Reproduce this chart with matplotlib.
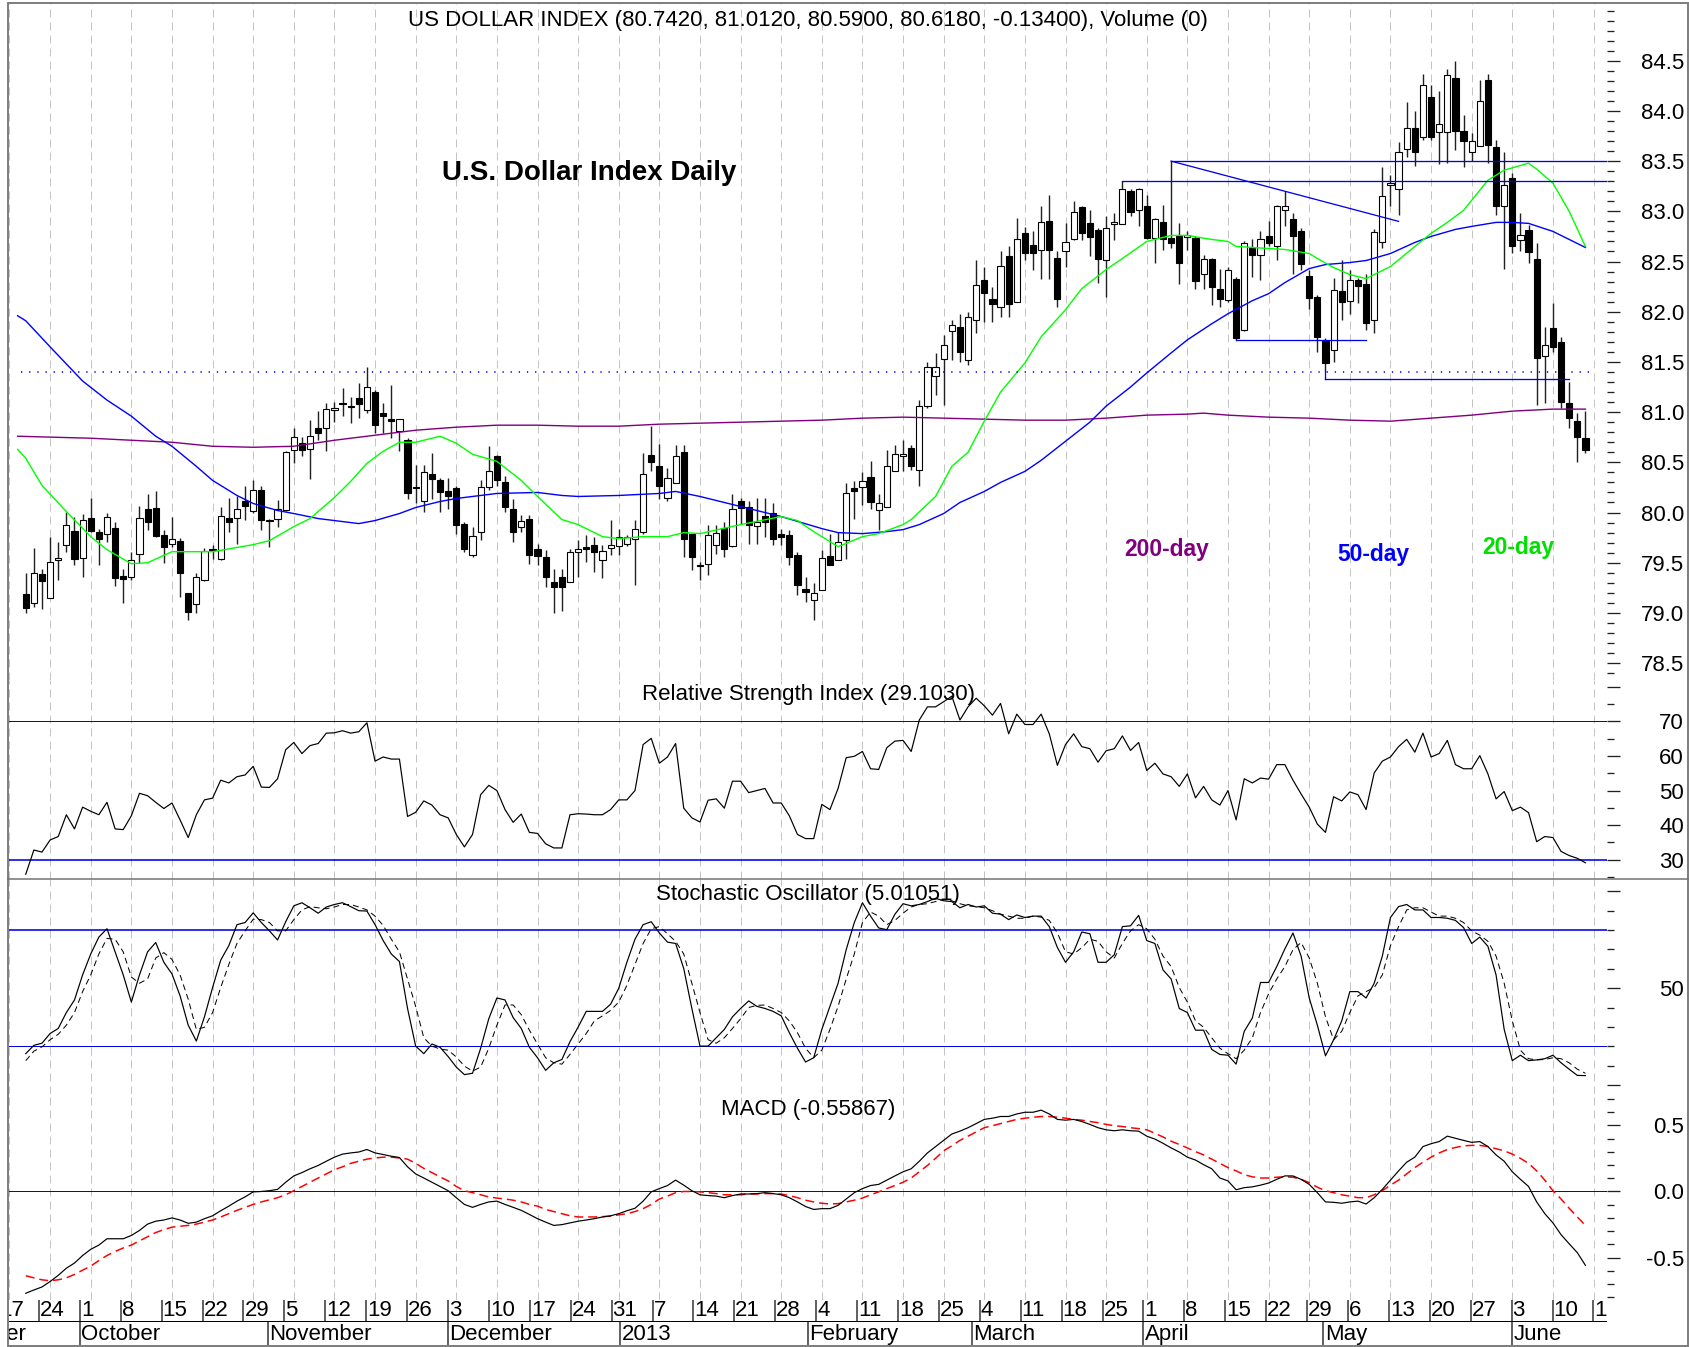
import numpy as np
import pandas as pd
import matplotlib
matplotlib.use("Agg")
import matplotlib.pyplot as plt
from matplotlib.lines import Line2D
from matplotlib.patches import Rectangle

# US Dollar Index, daily bars (19 Sep 2012 .. 14 Jun 2013)
first_day, last_day = "2012-09-19", "2013-06-14"

opens = [79.19, 79.10, 79.39, 79.15, 79.53, 79.68, 79.82, 79.55, 79.95, 79.81,
         79.79, 79.85, 79.37, 79.36, 79.59, 80.04, 80.05, 79.78, 79.69, 79.72,
         79.20, 79.09, 79.33, 79.63, 79.54, 79.95, 79.95, 80.11, 80.02, 80.22,
         79.93, 79.94, 80.03, 80.62, 80.69, 80.63, 80.84, 80.84, 81.02, 81.09,
         81.06, 81.14, 81.02, 81.20, 80.99, 80.93, 80.81, 80.72, 80.25, 80.11,
         80.38, 80.32, 80.21, 80.24, 79.89, 79.58, 79.81, 80.25, 80.56, 80.30,
         80.04, 79.86, 79.94, 79.64, 79.56, 79.31, 79.36, 79.31, 79.61, 79.66,
         79.68, 79.53, 79.65, 79.67, 79.69, 79.74, 79.81, 80.57, 80.46, 80.14,
         80.29, 80.60, 79.79, 79.48, 79.49, 79.68, 79.85, 79.67, 80.11, 80.06,
         79.87, 79.97, 80.00, 79.79, 79.78, 79.58, 79.24, 79.13, 79.23, 79.57,
         79.53, 79.73, 80.24, 80.25, 80.35, 80.03, 80.06, 80.41, 80.56, 80.64,
         80.42, 81.06, 81.36, 81.53, 81.81, 81.85, 81.52, 81.92, 82.32, 82.13,
         82.05, 82.56, 82.10, 82.78, 82.66, 82.61, 82.90, 82.54, 82.60, 82.72,
         83.04, 82.88, 82.81, 82.52, 82.87, 82.87, 83.20, 83.01, 83.05, 82.73,
         82.89, 82.73, 82.75, 82.74, 82.73, 82.38, 82.53, 82.23, 82.12, 82.33,
         81.82, 82.63, 82.57, 82.75, 82.65, 83.01, 82.92, 82.80, 82.36, 82.15,
         81.71, 81.62, 82.21, 82.11, 82.32, 82.28, 81.92, 82.69, 83.26, 83.22,
         83.62, 83.83, 83.74, 84.14, 83.79, 83.79, 84.33, 83.80, 83.59, 83.65,
         84.31, 83.64, 83.05, 83.33, 82.71, 82.81, 82.53, 81.56, 81.84, 81.70,
         81.09, 80.91, 80.742]
highs = [79.40, 79.65, 79.44, 79.76, 79.71, 80.01, 79.96, 79.99, 80.14, 79.84,
         80.00, 79.91, 79.44, 79.61, 80.07, 80.18, 80.21, 79.83, 79.96, 79.75,
         79.20, 79.40, 79.65, 79.68, 80.06, 80.14, 80.16, 80.26, 80.32, 80.26,
         79.94, 80.12, 80.61, 80.84, 80.75, 80.92, 81.01, 81.09, 81.10, 81.24,
         81.15, 81.29, 81.45, 81.22, 81.09, 81.27, 80.93, 80.74, 80.47, 80.47,
         80.59, 80.34, 80.34, 80.26, 79.91, 79.86, 80.32, 80.66, 80.57, 80.36,
         80.13, 79.98, 79.98, 79.69, 79.63, 79.44, 79.44, 79.64, 79.73, 79.78,
         79.76, 79.68, 79.93, 79.84, 79.78, 79.93, 80.59, 80.86, 80.68, 80.44,
         80.67, 80.67, 79.79, 79.51, 79.88, 79.88, 79.91, 80.18, 80.14, 80.11,
         80.14, 80.14, 80.09, 79.84, 79.83, 79.61, 79.36, 79.30, 79.63, 79.79,
         79.81, 80.29, 80.31, 80.40, 80.51, 80.18, 80.62, 80.67, 80.72, 80.67,
         81.12, 81.50, 81.59, 81.77, 81.92, 81.98, 82.00, 82.52, 82.45, 82.25,
         82.60, 82.65, 82.93, 82.84, 82.80, 83.05, 83.16, 82.60, 82.88, 83.10,
         83.05, 83.01, 82.83, 82.95, 82.98, 83.30, 83.22, 83.23, 83.16, 82.93,
         83.06, 83.50, 82.88, 82.80, 82.75, 82.57, 82.54, 82.43, 82.45, 82.35,
         82.70, 82.72, 82.80, 82.90, 83.06, 83.20, 82.98, 82.83, 82.42, 82.17,
         81.74, 82.34, 82.52, 82.42, 82.34, 82.38, 82.82, 83.44, 83.36, 83.69,
         84.09, 84.00, 84.37, 84.26, 84.20, 84.42, 84.50, 83.96, 83.78, 84.31,
         84.37, 83.71, 83.59, 83.38, 82.98, 82.86, 82.68, 81.85, 82.09, 81.75,
         81.30, 80.99, 81.012]
lows = [79.00, 79.06, 79.04, 79.15, 79.33, 79.61, 79.48, 79.36, 79.81, 79.48,
        79.71, 79.27, 79.10, 79.33, 79.50, 79.83, 79.76, 79.50, 79.66, 79.16,
        78.93, 79.00, 79.32, 79.54, 79.53, 79.81, 79.69, 79.93, 80.00, 79.83,
        79.66, 79.86, 80.02, 80.49, 80.56, 80.33, 80.72, 80.61, 80.90, 80.96,
        80.89, 80.94, 80.99, 80.79, 80.79, 80.74, 80.61, 80.13, 80.09, 80.01,
        80.13, 80.01, 80.04, 79.79, 79.61, 79.56, 79.73, 80.22, 80.26, 80.01,
        79.71, 79.81, 79.49, 79.48, 79.26, 79.00, 79.02, 79.31, 79.36, 79.51,
        79.41, 79.35, 79.58, 79.58, 79.67, 79.28, 79.79, 80.41, 80.13, 80.11,
        80.29, 79.56, 79.43, 79.33, 79.38, 79.59, 79.56, 79.66, 79.89, 79.69,
        79.69, 79.76, 79.68, 79.68, 79.48, 79.18, 79.11, 78.93, 79.23, 79.48,
        79.53, 79.54, 79.94, 80.08, 80.04, 79.83, 80.06, 80.41, 80.41, 80.42,
        80.26, 81.04, 81.17, 81.07, 81.52, 81.50, 81.47, 81.79, 81.90, 81.90,
        81.95, 81.95, 82.10, 82.52, 82.42, 82.33, 82.33, 82.05, 82.45, 82.71,
        82.71, 82.56, 82.29, 82.15, 82.71, 82.87, 82.95, 82.85, 82.72, 82.49,
        82.61, 82.63, 82.28, 82.61, 82.23, 82.23, 82.07, 82.05, 82.10, 81.72,
        81.81, 82.35, 82.32, 82.65, 82.52, 82.85, 82.38, 82.42, 82.03, 81.60,
        81.42, 81.50, 81.92, 81.98, 82.09, 81.82, 81.79, 82.63, 83.05, 82.96,
        83.54, 83.45, 83.71, 83.71, 83.47, 83.48, 83.61, 83.44, 83.50, 83.65,
        83.48, 82.96, 82.43, 82.58, 82.60, 82.49, 81.07, 81.09, 81.60, 81.04,
        80.84, 80.50, 80.590]
closes = [79.05, 79.40, 79.32, 79.51, 79.55, 79.88, 79.54, 79.93, 79.82, 79.74,
          79.96, 79.35, 79.34, 79.53, 79.95, 79.91, 79.77, 79.66, 79.74, 79.40,
          79.01, 79.36, 79.62, 79.64, 79.97, 79.91, 80.04, 80.07, 80.22, 79.93,
          79.92, 80.04, 80.60, 80.75, 80.62, 80.76, 80.79, 81.03, 81.04, 81.08,
          81.05, 81.08, 81.25, 80.87, 80.96, 80.91, 80.93, 80.19, 80.24, 80.40,
          80.33, 80.20, 80.16, 79.88, 79.64, 79.77, 80.25, 80.41, 80.32, 80.06,
          79.81, 79.92, 79.58, 79.57, 79.36, 79.26, 79.26, 79.61, 79.64, 79.64,
          79.61, 79.62, 79.68, 79.76, 79.76, 79.84, 80.38, 80.50, 80.26, 80.34,
          80.56, 79.74, 79.56, 79.47, 79.78, 79.80, 79.64, 80.04, 80.05, 79.88,
          79.91, 79.91, 79.74, 79.76, 79.56, 79.28, 79.21, 79.20, 79.55, 79.48,
          79.71, 80.19, 80.21, 80.31, 80.10, 80.09, 80.46, 80.58, 80.58, 80.46,
          81.06, 81.45, 81.45, 81.67, 81.87, 81.60, 81.95, 82.27, 82.19, 82.08,
          82.46, 82.08, 82.72, 82.58, 82.58, 82.89, 82.61, 82.13, 82.69, 82.99,
          82.78, 82.74, 82.53, 82.83, 82.89, 83.22, 82.99, 83.22, 82.73, 82.92,
          82.72, 82.68, 82.49, 82.76, 82.31, 82.53, 82.25, 82.13, 82.42, 81.74,
          82.68, 82.57, 82.72, 82.68, 83.05, 83.05, 82.75, 82.48, 82.14, 81.75,
          81.49, 82.22, 82.10, 82.32, 82.26, 81.89, 82.79, 83.15, 83.28, 83.59,
          83.83, 83.59, 84.26, 83.74, 83.87, 84.36, 83.80, 83.70, 83.70, 84.10,
          83.66, 83.05, 83.26, 82.65, 82.76, 82.59, 81.54, 81.67, 81.65, 81.10,
          80.94, 80.75, 80.618]

# moving averages, sampled along the curves
ma20_dates = ["2012-09-18", "2012-09-19", "2012-09-21", "2012-09-26", "2012-10-01", "2012-10-03",
              "2012-10-08", "2012-10-10", "2012-10-15", "2012-10-22", "2012-10-29",
              "2012-10-31", "2012-11-05", "2012-11-07", "2012-11-12", "2012-11-14",
              "2012-11-16", "2012-11-20", "2012-11-22", "2012-11-26", "2012-11-29",
              "2012-12-03", "2012-12-05", "2012-12-10", "2012-12-13", "2012-12-17",
              "2012-12-20", "2012-12-24", "2012-12-27", "2012-12-31", "2013-01-03",
              "2013-01-08", "2013-01-10", "2013-01-14", "2013-01-21", "2013-01-28",
              "2013-01-30", "2013-02-01", "2013-02-06", "2013-02-11", "2013-02-13",
              "2013-02-18", "2013-02-19", "2013-02-22", "2013-02-26", "2013-02-28",
              "2013-03-04", "2013-03-06", "2013-03-11", "2013-03-13", "2013-03-18",
              "2013-03-20", "2013-03-25", "2013-03-27", "2013-04-01", "2013-04-04",
              "2013-04-08", "2013-04-11", "2013-04-15", "2013-04-16", "2013-04-22",
              "2013-04-24", "2013-04-29", "2013-04-30", "2013-05-02", "2013-05-06",
              "2013-05-08", "2013-05-13", "2013-05-16", "2013-05-20", "2013-05-22",
              "2013-05-24", "2013-05-29", "2013-05-31", "2013-06-05", "2013-06-06",
              "2013-06-07", "2013-06-10", "2013-06-12", "2013-06-14"]
ma20 = [80.63, 80.54, 80.27, 80.01, 79.76, 79.63, 79.49, 79.50, 79.61, 79.61, 79.68,
        79.72, 79.86, 79.94, 80.15, 80.31, 80.49, 80.61, 80.70, 80.70, 80.76,
        80.69, 80.58, 80.51, 80.32, 80.16, 79.93, 79.88, 79.76, 79.74, 79.76,
        79.76, 79.80, 79.79, 79.88, 79.96, 79.92, 79.81, 79.66, 79.76, 79.79,
        79.88, 79.93, 80.16, 80.46, 80.60, 80.91, 81.20, 81.49, 81.75, 82.02,
        82.23, 82.42, 82.53, 82.70, 82.76, 82.76, 82.72, 82.70, 82.65, 82.63,
        82.62, 82.58, 82.53, 82.44, 82.37, 82.33, 82.45, 82.65, 82.78, 82.89,
        83.01, 83.31, 83.41, 83.48, 83.42, 83.35, 83.28, 83.00, 82.65]

ma50_dates = ["2012-09-18", "2012-09-19", "2012-09-24", "2012-09-28", "2012-10-03", "2012-10-08",
              "2012-10-11", "2012-10-15", "2012-10-18", "2012-10-22", "2012-10-25",
              "2012-10-29", "2012-11-01", "2012-11-05", "2012-11-08", "2012-11-12",
              "2012-11-15", "2012-11-19", "2012-11-22", "2012-11-26", "2012-11-29",
              "2012-12-03", "2012-12-06", "2012-12-10", "2012-12-17", "2012-12-20",
              "2012-12-24", "2012-12-31", "2013-01-07", "2013-01-09", "2013-01-14",
              "2013-01-21", "2013-01-28", "2013-02-04", "2013-02-06", "2013-02-11",
              "2013-02-14", "2013-02-18", "2013-02-20", "2013-02-25", "2013-02-27",
              "2013-03-04", "2013-03-06", "2013-03-11", "2013-03-13", "2013-03-18",
              "2013-03-21", "2013-03-25", "2013-03-28", "2013-04-01", "2013-04-04",
              "2013-04-08", "2013-04-11", "2013-04-15", "2013-04-18", "2013-04-22",
              "2013-04-24", "2013-04-29", "2013-05-01", "2013-05-06", "2013-05-08",
              "2013-05-13", "2013-05-16", "2013-05-20", "2013-05-23", "2013-05-27",
              "2013-05-30", "2013-06-03", "2013-06-05", "2013-06-10", "2013-06-12",
              "2013-06-14"]
ma50 = [81.96, 81.91, 81.65, 81.31, 81.12, 80.96, 80.76, 80.66, 80.46, 80.32, 80.17,
        80.09, 80.02, 79.99, 79.94, 79.92, 79.89, 79.92, 79.99, 80.05, 80.11,
        80.14, 80.17, 80.19, 80.20, 80.17, 80.16, 80.17, 80.19, 80.21, 80.16,
        80.06, 79.96, 79.84, 79.80, 79.79, 79.81, 79.83, 79.88, 79.99, 80.10,
        80.21, 80.30, 80.41, 80.52, 80.71, 80.90, 81.06, 81.25, 81.39, 81.59,
        81.72, 81.88, 81.98, 82.11, 82.18, 82.29, 82.43, 82.47, 82.49, 82.51,
        82.58, 82.69, 82.75, 82.82, 82.85, 82.89, 82.89, 82.88, 82.80, 82.72,
        82.64]

ma200_dates = ["2012-09-18", "2012-10-01", "2012-10-08", "2012-10-15", "2012-10-22", "2012-10-29",
               "2012-11-05", "2012-11-12", "2012-11-19", "2012-11-26", "2012-12-03",
               "2012-12-10", "2012-12-17", "2012-12-24", "2012-12-31", "2013-01-07",
               "2013-01-14", "2013-01-21", "2013-01-28", "2013-02-04", "2013-02-11",
               "2013-02-18", "2013-02-25", "2013-03-04", "2013-03-11", "2013-03-18",
               "2013-03-25", "2013-04-01", "2013-04-08", "2013-04-10", "2013-04-15",
               "2013-04-22", "2013-04-29", "2013-05-06", "2013-05-13", "2013-05-20",
               "2013-05-27", "2013-06-03", "2013-06-10", "2013-06-14"]
ma200 = [80.76, 80.74, 80.72, 80.70, 80.66, 80.65, 80.66, 80.72, 80.77, 80.82, 80.85,
         80.87, 80.87, 80.86, 80.86, 80.88, 80.89, 80.90, 80.91, 80.92, 80.94,
         80.95, 80.94, 80.93, 80.92, 80.92, 80.94, 80.97, 80.98, 80.99, 80.97,
         80.95, 80.94, 80.92, 80.91, 80.94, 80.97, 81.01, 81.03, 81.03]

rsi = [25.8, 32.8, 32.2, 35.7, 36.7, 43.0, 38.9, 45.2, 44.0, 43.0,
       46.6, 38.9, 38.7, 42.7, 49.2, 48.5, 46.6, 44.8, 46.4, 41.5,
       36.4, 43.0, 47.3, 47.8, 53.0, 52.2, 54.0, 54.5, 57.0, 51.0,
       50.9, 53.4, 61.8, 63.9, 60.7, 63.0, 63.6, 66.6, 66.7, 67.3,
       66.6, 67.0, 69.6, 58.5, 59.7, 59.1, 59.1, 42.5, 43.7, 47.0,
       45.8, 43.0, 42.1, 37.3, 33.7, 37.3, 48.8, 51.5, 50.0, 44.5,
       40.8, 43.2, 37.9, 37.6, 34.6, 33.4, 33.4, 43.0, 43.3, 43.2,
       43.0, 43.0, 44.5, 47.3, 47.3, 50.0, 63.3, 65.1, 57.9, 59.7,
       63.6, 44.9, 42.1, 40.9, 47.2, 47.6, 44.9, 52.7, 52.7, 49.4,
       50.0, 50.6, 46.4, 46.4, 42.7, 37.3, 36.1, 36.1, 46.0, 44.5,
       50.6, 59.5, 59.9, 61.3, 56.3, 56.1, 62.4, 64.3, 64.5, 61.3,
       70.4, 74.2, 74.2, 75.7, 77.3, 70.4, 74.2, 76.7, 74.5, 71.8,
       75.2, 66.4, 72.1, 69.1, 69.1, 72.1, 66.4, 57.3, 63.3, 66.4,
       62.7, 62.1, 58.2, 61.5, 62.1, 65.8, 61.6, 63.9, 55.8, 57.9,
       54.8, 54.0, 51.2, 54.8, 47.9, 51.2, 47.3, 45.8, 50.0, 41.5,
       53.4, 52.2, 53.6, 53.3, 57.5, 57.5, 53.0, 49.0, 45.2, 40.3,
       37.9, 48.2, 47.0, 49.6, 48.8, 44.5, 55.1, 58.5, 59.7, 62.7,
       64.8, 61.1, 66.6, 59.7, 60.7, 64.5, 57.5, 56.3, 56.3, 60.1,
       54.8, 47.6, 49.7, 44.2, 45.2, 43.6, 35.2, 36.7, 36.4, 32.4,
       31.2, 30.4, 29.1]

stoch_k = [16.3, 20.6, 21.7, 26.7, 29.3, 37.5, 44.0, 56.9, 67.7, 76.4,
           80.7, 68.8, 56.9, 42.9, 56.9, 68.8, 73.6, 63.4, 57.4, 46.1,
           31.0, 22.8, 35.3, 50.4, 64.5, 72.0, 82.8, 83.9, 88.9, 83.9,
           79.6, 74.9, 84.3, 92.5, 94.1, 91.5, 88.7, 91.9, 93.2, 94.1,
           92.1, 90.0, 89.8, 82.8, 74.6, 67.7, 63.8, 39.6, 20.2, 16.3,
           21.3, 19.6, 14.8, 9.4, 5.5, 6.2, 19.1, 34.3, 45.0, 44.0,
           34.9, 29.3, 19.6, 14.2, 7.7, 11.6, 13.3, 22.5, 30.0, 38.1,
           38.1, 38.1, 41.8, 50.0, 63.4, 75.3, 82.8, 84.3, 78.5, 73.8,
           73.1, 60.2, 39.6, 20.2, 20.2, 24.5, 28.8, 35.3, 39.6, 43.5,
           40.7, 39.6, 38.1, 35.8, 27.1, 19.1, 12.0, 14.2, 28.8, 40.7,
           52.6, 69.9, 83.9, 94.1, 87.2, 81.1, 80.2, 88.2, 93.6, 92.5,
           93.2, 94.7, 96.4, 95.1, 94.7, 91.5, 93.2, 91.9, 92.5, 88.7,
           88.2, 85.4, 87.8, 86.5, 87.2, 87.2, 81.8, 71.0, 63.4, 68.8,
           79.0, 78.1, 63.4, 63.4, 67.3, 81.8, 82.2, 87.6, 74.6, 73.1,
           59.5, 54.8, 39.6, 37.5, 28.4, 28.4, 18.5, 15.9, 15.5, 10.9,
           27.8, 34.7, 53.0, 53.0, 61.2, 70.3, 78.5, 66.6, 45.0, 31.0,
           15.2, 23.4, 33.2, 48.3, 48.3, 45.0, 52.6, 66.6, 86.5, 92.1,
           93.2, 90.4, 90.4, 86.5, 86.5, 86.1, 85.0, 81.3, 73.1, 76.4,
           71.6, 56.9, 28.8, 12.7, 15.5, 12.7, 13.1, 13.7, 15.5, 11.6,
           8.3, 5.1, 5.0]
stoch_d = [12.7, 17.6, 19.8, 23.5, 26.3, 31.0, 37.5, 48.3, 56.9, 67.7,
           75.7, 75.3, 68.8, 55.8, 52.6, 54.8, 65.6, 68.4, 64.9, 56.9,
           44.4, 28.8, 29.9, 37.5, 50.4, 62.3, 73.1, 79.6, 85.6, 85.4,
           83.9, 79.6, 79.6, 85.4, 90.4, 92.1, 91.5, 91.0, 91.9, 93.2,
           93.2, 91.9, 90.4, 87.2, 82.4, 75.3, 68.8, 54.8, 40.7, 24.5,
           20.2, 18.7, 18.1, 14.6, 9.9, 7.3, 9.4, 19.1, 31.0, 41.4,
           41.4, 36.4, 28.4, 21.3, 14.2, 11.6, 10.9, 15.9, 21.3, 26.7,
           33.2, 35.8, 38.6, 42.9, 51.5, 62.3, 73.1, 80.7, 81.8, 78.1,
           74.2, 67.7, 52.6, 37.5, 23.5, 21.7, 24.5, 29.3, 34.3, 40.1,
           41.2, 41.4, 39.6, 37.5, 33.2, 27.1, 19.1, 14.2, 18.1, 28.8,
           40.7, 54.8, 67.7, 83.9, 89.3, 87.2, 82.8, 85.0, 88.7, 91.9,
           93.2, 93.6, 94.7, 95.8, 95.1, 93.6, 92.5, 92.1, 91.5, 90.0,
           88.2, 87.2, 86.1, 86.1, 87.2, 86.7, 85.0, 78.5, 68.8, 67.7,
           70.9, 75.3, 74.2, 68.8, 65.6, 73.1, 79.6, 82.8, 80.7, 75.3,
           66.6, 61.2, 50.4, 42.9, 33.2, 29.9, 24.5, 19.1, 16.3, 13.7,
           18.1, 24.5, 37.5, 47.2, 54.8, 61.2, 69.9, 73.6, 65.6, 52.6,
           35.3, 23.5, 27.8, 37.5, 46.1, 48.3, 50.4, 56.9, 72.0, 81.8,
           90.4, 91.5, 91.5, 89.3, 87.2, 87.2, 86.1, 83.9, 79.6, 77.4,
           74.2, 66.6, 52.6, 33.2, 18.1, 13.7, 13.1, 13.3, 14.2, 13.7,
           11.6, 8.3, 6.2]

macd = [-0.771, -0.746, -0.723, -0.682, -0.635, -0.581, -0.542, -0.485, -0.438, -0.406,
        -0.358, -0.358, -0.358, -0.333, -0.295, -0.247, -0.225, -0.216, -0.200, -0.216,
        -0.241, -0.232, -0.206, -0.184, -0.146, -0.111, -0.073, -0.041, -0.003, 0.000,
        0.006, 0.016, 0.070, 0.118, 0.143, 0.172, 0.197, 0.229, 0.260, 0.283,
        0.292, 0.299, 0.318, 0.292, 0.280, 0.267, 0.257, 0.187, 0.133, 0.102,
        0.070, 0.038, 0.006, -0.047, -0.098, -0.120, -0.098, -0.079, -0.073, -0.098,
        -0.120, -0.143, -0.174, -0.206, -0.232, -0.257, -0.251, -0.238, -0.225, -0.216,
        -0.206, -0.193, -0.184, -0.168, -0.146, -0.127, -0.073, -0.003, 0.022, 0.045,
        0.086, 0.048, 0.006, -0.025, -0.031, -0.035, -0.047, -0.031, -0.019, -0.019,
        -0.016, -0.009, -0.016, -0.025, -0.047, -0.079, -0.114, -0.136, -0.130, -0.130,
        -0.105, -0.057, -0.009, 0.022, 0.045, 0.054, 0.086, 0.118, 0.149, 0.172,
        0.229, 0.292, 0.340, 0.387, 0.435, 0.457, 0.483, 0.514, 0.546, 0.555,
        0.568, 0.568, 0.587, 0.600, 0.600, 0.616, 0.587, 0.546, 0.540, 0.546,
        0.530, 0.508, 0.483, 0.467, 0.460, 0.467, 0.460, 0.457, 0.419, 0.397,
        0.365, 0.330, 0.299, 0.260, 0.238, 0.203, 0.172, 0.102, 0.080, 0.013,
        0.029, 0.035, 0.048, 0.064, 0.092, 0.118, 0.118, 0.092, 0.054, -0.009,
        -0.079, -0.082, -0.089, -0.079, -0.073, -0.095, -0.047, 0.016, 0.086, 0.156,
        0.222, 0.260, 0.340, 0.362, 0.378, 0.419, 0.403, 0.387, 0.372, 0.378,
        0.340, 0.277, 0.229, 0.149, 0.092, 0.038, -0.079, -0.168, -0.238, -0.327,
        -0.396, -0.463, -0.559]
macd_signal = [-0.638, -0.654, -0.669, -0.676, -0.669, -0.654, -0.628, -0.596, -0.565, -0.523,
               -0.485, -0.454, -0.428, -0.406, -0.374, -0.343, -0.311, -0.289, -0.270, -0.263,
               -0.257, -0.247, -0.232, -0.216, -0.193, -0.168, -0.143, -0.120, -0.098, -0.079,
               -0.063, -0.047, -0.025, 0.006, 0.038, 0.070, 0.102, 0.133, 0.165, 0.187,
               0.213, 0.229, 0.245, 0.254, 0.260, 0.260, 0.254, 0.245, 0.213, 0.175,
               0.143, 0.111, 0.080, 0.038, 0.006, -0.009, -0.025, -0.041, -0.050, -0.057,
               -0.066, -0.079, -0.098, -0.111, -0.136, -0.152, -0.168, -0.184, -0.193, -0.193,
               -0.193, -0.190, -0.187, -0.177, -0.168, -0.152, -0.130, -0.098, -0.057, -0.035,
               -0.009, 0.000, 0.000, -0.003, -0.009, -0.016, -0.025, -0.025, -0.025, -0.019,
               -0.019, -0.016, -0.016, -0.019, -0.031, -0.047, -0.066, -0.079, -0.089, -0.095,
               -0.092, -0.079, -0.066, -0.050, -0.025, -0.003, 0.022, 0.045, 0.070, 0.102,
               0.149, 0.197, 0.251, 0.308, 0.346, 0.387, 0.419, 0.451, 0.483, 0.498,
               0.514, 0.530, 0.546, 0.555, 0.562, 0.568, 0.568, 0.562, 0.555, 0.546,
               0.540, 0.530, 0.521, 0.508, 0.498, 0.492, 0.483, 0.476, 0.467, 0.441,
               0.413, 0.381, 0.356, 0.330, 0.302, 0.277, 0.245, 0.213, 0.181, 0.156,
               0.127, 0.111, 0.102, 0.102, 0.108, 0.111, 0.108, 0.092, 0.067, 0.032,
               0.006, -0.009, -0.025, -0.035, -0.047, -0.047, -0.025, 0.006, 0.048, 0.086,
               0.133, 0.181, 0.222, 0.260, 0.292, 0.318, 0.333, 0.346, 0.349, 0.349,
               0.340, 0.324, 0.308, 0.283, 0.251, 0.213, 0.156, 0.086, 0.006, -0.057,
               -0.127, -0.193, -0.257]

# drawn support / resistance lines: (start, end, start level, end level)
trend_lines = [("2013-04-04", None, 83.50, 83.50),
               ("2013-03-27", None, 83.30, 83.30),
               ("2013-04-04", "2013-05-14", 83.50, 82.90),
               ("2013-04-16", "2013-05-08", 81.72, 81.72),
               ("2013-05-01", "2013-06-12", 81.33, 81.33)]
dotted_level = 81.40

month_starts = ["2012-09-03", "2012-10-01", "2012-11-01", "2012-12-03", "2013-01-01",
                "2013-02-01", "2013-03-01", "2013-04-01", "2013-05-01", "2013-06-03"]
month_names = ["September", "October", "November", "December", "2013",
               "February", "March", "April", "May", "June"]

# ---------------------------------------------------------------------------
plt.rcParams["font.family"] = ["Liberation Sans", "DejaVu Sans"]
plt.rcParams["axes.unicode_minus"] = False

W, H, DPI = 1690, 1347, 100
PX = 72.0 / DPI           # points per pixel
LEFT, RIGHT = 9.5, 1606.7
XLIM = (1.41, 196.62)
FS = 16
BLUE = "#0000ee"

ORIGIN = np.datetime64("2012-09-17")


def bday(d):
    return np.busday_count(ORIGIN, np.asarray(d, dtype="datetime64[D]"))


days = pd.bdate_range(first_day, last_day)
x = bday(days.values.astype("datetime64[D]"))
mondays = pd.date_range("2012-09-17", "2013-06-17", freq="W-MON")
xm = bday(mondays.values.astype("datetime64[D]"))

fig = plt.figure(figsize=(W / DPI, H / DPI), dpi=DPI)
fig.patch.set_facecolor("white")


def panel(top, bottom, ylim):
    ax = fig.add_axes([LEFT / W, 1 - bottom / H, (RIGHT - LEFT) / W, (bottom - top) / H])
    ax.patch.set_alpha(0)
    for s in ax.spines.values():
        s.set_visible(False)
    ax.set_xlim(XLIM)
    ax.set_ylim(ylim)
    ax.set_xticks(xm)
    ax.tick_params(axis="x", bottom=False, labelbottom=False)
    ax.grid(axis="x", color="#c4c4c4", lw=1 * PX, ls=(0, (8, 5)))
    ax.set_axisbelow(True)
    return ax


def right_ticks(ax, major, labels, minor):
    ax.yaxis.tick_right()
    ax.set_yticks(major, labels=labels)
    ax.set_yticks(minor, minor=True)
    ax.tick_params(axis="y", which="major", direction="out", length=13.3 * PX,
                   width=1.3 * PX, color="#202020", pad=64 * PX, labelsize=FS)
    ax.tick_params(axis="y", which="minor", direction="out", length=6.7 * PX,
                   width=1.3 * PX, color="#202020")
    plt.setp(ax.yaxis.get_majorticklabels(), ha="right")


# ---- price panel ----
ax = panel(3, 680, (78.332, 85.075))
pmaj = np.arange(78.5, 84.51, 0.5)
right_ticks(ax, pmaj, [f"{v:.1f}" for v in pmaj], np.arange(78.4, 85.05, 0.1))

o, h, l, c = map(np.array, (opens, highs, lows, closes))
up = c >= o
ax.vlines(x, l, h, color="#202020", lw=1.4 * PX, zorder=2)
ax.bar(x, np.maximum(np.abs(c - o), 0.004), bottom=np.minimum(o, c), width=0.76,
       color=np.where(up, "white", "black"), edgecolor="black", lw=1.1 * PX, zorder=3)

ax.plot(bday(ma200_dates), ma200, color="#800080", lw=1.4 * PX, zorder=4)
ax.plot(bday(ma50_dates), ma50, color="#0000ff", lw=1.4 * PX, zorder=4)
ax.plot(bday(ma20_dates), ma20, color="#00ff00", lw=1.4 * PX, zorder=4)

for start, end, y0, y1 in trend_lines:
    xs = bday(start)
    xe = XLIM[1] if end is None else bday(end)
    ax.plot([xs, xe], [y0, y1], color=BLUE, lw=1.3 * PX, zorder=5, clip_on=True)
ax.plot([bday("2013-05-01")] * 2, [81.42, 81.33], color=BLUE, lw=1.3 * PX, zorder=5)
ax.hlines(dotted_level, XLIM[0], bday("2013-06-17"), color=BLUE, lw=1.6 * PX,
          ls=(0, (0.8, 4.3)), zorder=5)

ax.text(0.5, 0.974, "US DOLLAR INDEX (80.7420, 81.0120, 80.5900, 80.6180, -0.13400), Volume (0)",
        transform=ax.transAxes, ha="center", va="center", fontsize=FS)
ax.text(0.3628, 0.7486, "U.S. Dollar Index Daily", transform=ax.transAxes,
        ha="center", va="center", fontsize=20, fontweight="bold")
ax.text(0.7247, 0.1935, "200-day", transform=ax.transAxes, ha="center", va="center",
        fontsize=16.5, fontweight="bold", color="#800080")
ax.text(0.8537, 0.1861, "50-day", transform=ax.transAxes, ha="center", va="center",
        fontsize=16.5, fontweight="bold", color="#0000ff")
ax.text(0.9445, 0.195, "20-day", transform=ax.transAxes, ha="center", va="center",
        fontsize=16.5, fontweight="bold", color="#00e000")

# ---- RSI ----
ax = panel(680, 879.4, (24.30, 81.97))
right_ticks(ax, [30, 40, 50, 60, 70, 80], ["30", "40", "50", "60", "70", ""],
            np.arange(25, 80, 5))
ax.axhline(70, color=BLUE, lw=1 * PX)
ax.axhline(30, color=BLUE, lw=1.6 * PX)
ax.plot(x, rsi, color="black", lw=1.2 * PX, zorder=3)
ax.text(0.5, 0.929, "Relative Strength Index (29.1030)", transform=ax.transAxes,
        ha="center", va="center", fontsize=FS)

# ---- Stochastic ----
ax = panel(879.4, 1094.3, (-4.64, 106.13))
right_ticks(ax, [0, 50, 100], ["", "50", ""], np.arange(10, 100, 10))
ax.axhline(80, color=BLUE, lw=1.6 * PX)
ax.axhline(20, color=BLUE, lw=1 * PX)
ax.plot(x, stoch_d, color="black", lw=1 * PX, ls=(0, (6, 4)), zorder=3)
ax.plot(x, stoch_k, color="black", lw=1.2 * PX, zorder=3)
ax.text(0.5, 0.931, "Stochastic Oscillator (5.01051)", transform=ax.transAxes,
        ha="center", va="center", fontsize=FS)

# ---- MACD ----
ax = panel(1094.3, 1299.5, (-0.818, 0.736))
right_ticks(ax, [-0.5, 0.0, 0.5], ["-0.5", "0.0", "0.5"], np.arange(-0.8, 0.75, 0.1))
ax.axhline(0, color=BLUE, lw=1 * PX)
ax.plot(x, macd_signal, color="#ff0000", lw=1.5 * PX, ls=(0, (6, 3.3)), zorder=3)
ax.plot(x, macd, color="black", lw=1.2 * PX, zorder=3)
ax.text(0.5, 0.927, "MACD (-0.55867)", transform=ax.transAxes,
        ha="center", va="center", fontsize=FS)

# ---- date axis ----
axd = fig.add_axes([LEFT / W, 1 - 1346 / H, (RIGHT - LEFT) / W, (1346 - 1299.5) / H])
axd.patch.set_alpha(0)
for s in axd.spines.values():
    s.set_visible(False)
axd.set_xlim(XLIM)
axd.set_ylim(0, 1)
axd.set_xticks([])
axd.set_yticks([])
mid = 0.548
axd.vlines(xm, mid, 1.0, color="#303030", lw=1.5 * PX)
xmo = bday(month_starts)
axd.vlines(xmo, 0, mid, color="#303030", lw=1.5 * PX)
axd.axhline(mid, color="black", lw=1 * PX)
axd.axhline(0.01, color="black", lw=1 * PX)
for p, d in zip(xm, mondays):
    axd.text(p + 0.12, 0.76, str(d.day), fontsize=FS, ha="left", va="center", clip_on=True)
for p, name in zip(xmo, month_names):
    axd.text(p + 0.2, 0.24, name, fontsize=FS, ha="left", va="center", clip_on=True)

# frame and panel separator
fig.add_artist(Line2D([8 / W, 1688 / W], [1 - 879.4 / H] * 2, color="#707070", lw=1.5 * PX))
fig.add_artist(Rectangle((8 / W, 1 - 1346 / H), 1680 / W, 1343 / H, fill=False,
                         edgecolor="#808080", lw=2 * PX))

fig.savefig("out.png", dpi=DPI)
